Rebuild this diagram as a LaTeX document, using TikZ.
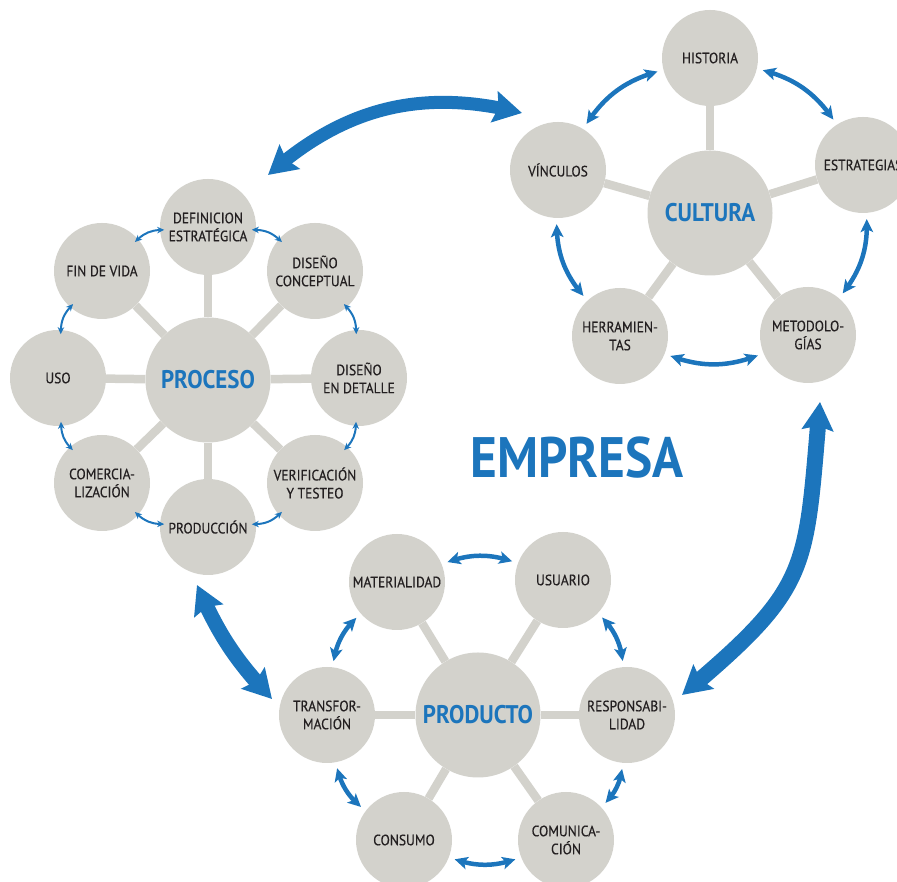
\documentclass[tikz,border=0pt]{standalone}
\usepackage{fontspec}
\setmainfont{PT Sans}
\newfontfamily\lblfont[FakeStretch=0.9,FakeBold=0.4]{PT Sans}
\newfontfamily\hubfont[FakeStretch=0.9]{PT Sans}
\usetikzlibrary{arrows.meta,backgrounds,bending}
\definecolor{cgray}{RGB}{211,210,204}
\definecolor{cblue}{RGB}{28,117,188}
\definecolor{ctext}{RGB}{35,31,32}
\begin{document}
\begin{tikzpicture}[x=1pt,y=1pt,
  outer/.style={circle,fill=cgray,minimum size=96pt,inner sep=0pt,align=center,
    font=\lblfont\fontsize{15}{18}\selectfont,text=ctext},
  hub/.style={circle,fill=cgray,minimum size=125pt,inner sep=0pt,
    font=\hubfont\bfseries\fontsize{25.5}{29}\selectfont,text=cblue},
  spoke/.style={draw=cgray,line width=8.5pt},
  thinarr/.style={draw=cblue,line width=2pt,shorten <=-4pt,shorten >=-4pt,
    {Stealth[length=7pt,width=6.5pt]}-{Stealth[length=7pt,width=6.5pt]}},
  medarr/.style={draw=cblue,line width=4.5pt,shorten <=6pt,shorten >=6pt,
    {Stealth[length=13pt,width=12.5pt,inset=3pt]}-{Stealth[length=13pt,width=12.5pt,inset=3pt]}},
  bigarr/.style={draw=cblue,
    {Stealth[length=28pt,width=31pt,inset=4pt]}-{Stealth[length=28pt,width=31pt,inset=4pt]}}
]
\useasboundingbox (0,0) rectangle (897,882);
\begin{scope}
\clip (0,0) rectangle (897,882);

% ---------- PROCESO ----------
\node[hub] (P) at (208,502) {PROCESO};
\node[outer] (P1) at (208,655) {DEFINICION\\ESTRATÉGICA};
\node[outer] (P2) at (315,611) {DISEÑO\\CONCEPTUAL};
\node[outer] (P3) at (359,504) {DISEÑO\\EN DETALLE};
\node[outer] (P4) at (315,399) {VERIFICACIÓN\\Y TESTEO};
\node[outer] (P5) at (208,355) {PRODUCCIÓN};
\node[outer] (P6) at (102,399) {COMERCIA-\\LIZACIÓN};
\node[outer] (P7) at (58,504) {USO};
\node[outer] (P8) at (102,611) {FIN DE VIDA};

% ---------- CULTURA ----------
\node[hub] (C) at (710,669) {CULTURA};
\node[outer] (C1) at (710,824) {HISTORIA};
\node[outer] (C2) at (863,717) {ESTRATEGIAS};
\node[outer] (C3) at (808,547) {METODOLO-\\GÍAS};
\node[outer] (C4) at (620,546) {HERRAMIEN-\\TAS};
\node[outer] (C5) at (558,712) {VÍNCULOS};

% ---------- PRODUCTO ----------
\node[hub] (D) at (478,167) {PRODUCTO};
\node[outer] (D1) at (397,300) {MATERIALIDAD};
\node[outer] (D2) at (563,302) {USUARIO};
\node[outer] (D3) at (627,167) {RESPONSABI-\\LIDAD};
\node[outer] (D4) at (566,42) {COMUNICA-\\CIÓN};
\node[outer] (D5) at (404,42) {CONSUMO};
\node[outer] (D6) at (327,167) {TRANSFOR-\\MACIÓN};

% ---------- spokes ----------
\begin{scope}[on background layer]
\foreach \i in {1,...,8} {\draw[spoke] (P) -- (P\i);}
\foreach \i in {1,...,5} {\draw[spoke] (C) -- (C\i);}
\foreach \i in {1,...,6} {\draw[spoke] (D) -- (D\i);}
\end{scope}

% ---------- ring arrows ----------
\draw[thinarr] (P1) to[bend left=19] (P2);
\draw[thinarr] (P2) to[bend left=19] (P3);
\draw[thinarr] (P3) to[bend left=19] (P4);
\draw[thinarr] (P4) to[bend left=19] (P5);
\draw[thinarr] (P5) to[bend left=19] (P6);
\draw[thinarr] (P6) to[bend left=19] (P7);
\draw[thinarr] (P7) to[bend left=19] (P8);
\draw[thinarr] (P8) to[bend left=19] (P1);

\draw[medarr] (C1) to[bend left=22] (C2);
\draw[medarr] (C2) to[bend left=22] (C3);
\draw[medarr] (C3) to[bend left=22] (C4);
\draw[medarr] (C4) to[bend left=22] (C5);
\draw[medarr] (C5) to[bend left=22] (C1);

\draw[medarr] (D1) to[bend left=21] (D2);
\draw[medarr] (D2) to[bend left=21] (D3);
\draw[medarr] (D3) to[bend left=21] (D4);
\draw[medarr] (D4) to[bend left=21] (D5);
\draw[medarr] (D5) to[bend left=21] (D6);
\draw[medarr] (D6) to[bend left=21] (D1);

% ---------- big arrows ----------
\coordinate (A1s) at (268,707);
\coordinate (A1e) at (522,769);
\draw[bigarr,line width=13pt] (A1s) to[bend left=28] (A1e);

\coordinate (A2s) at (682,187);
\coordinate (A2e) at (820,480);
\draw[bigarr,line width=16pt] (A2s) to[out=40,in=-95,looseness=1.35] (A2e);

\coordinate (A3s) at (197,297);
\coordinate (A3e) at (272,183);
\draw[bigarr,line width=15pt] (A3s) to[bend right=10] (A3e);

% ---------- title ----------
\node[font=\hubfont\bfseries\fontsize{57}{62}\selectfont,text=cblue] (E) at (577,424) {EMPRESA};
\end{scope}
\end{tikzpicture}
\end{document}
